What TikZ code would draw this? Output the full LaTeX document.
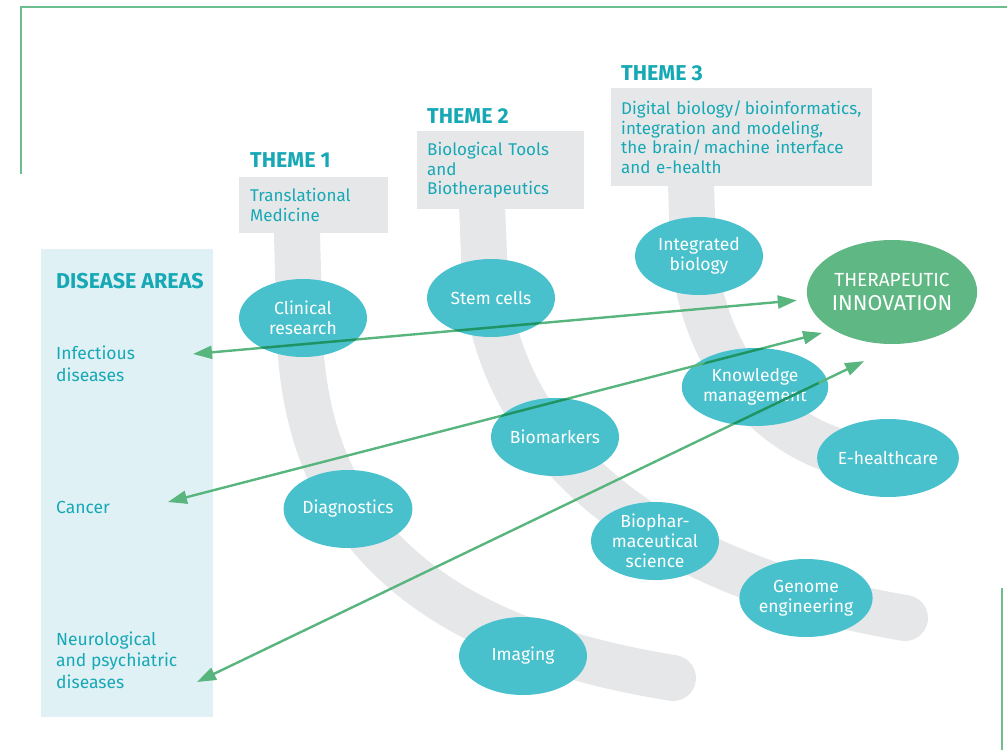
\documentclass[tikz,border=0pt]{standalone}
\usepackage{fontspec}
\setmainfont{Fira Sans}
\usetikzlibrary{shapes.geometric,calc,arrows.meta}

\definecolor{topicTeal}{HTML}{48C1CD}
\definecolor{labelTeal}{HTML}{16A8B5}
\definecolor{innovGreen}{HTML}{5FB784}
\definecolor{linkGreen}{HTML}{58B57E}
\definecolor{linkDark}{HTML}{1C9468}
\definecolor{bandGray}{HTML}{E6E7E9}
\definecolor{areaBlue}{HTML}{E0F1F5}
\definecolor{frameGreen}{HTML}{6CBE8E}

\begin{document}
\begin{tikzpicture}[x=1pt,y=-1pt,
  topic/.style={ellipse,fill=topicTeal,text=white,minimum width=128pt,minimum height=78pt,inner sep=0pt,outer sep=0pt,align=center,font=\fontsize{17.5}{20}\selectfont},
  themebox/.style={fill=bandGray,text=labelTeal,anchor=north west,align=left,inner xsep=10pt,inner ysep=0pt,font=\fontsize{17}{19.5}\selectfont},
  themelabel/.style={text=labelTeal,anchor=base west,inner sep=0pt,font=\bfseries\fontsize{21.5}{24}\selectfont},
  areatext/.style={text=labelTeal,anchor=base west,inner sep=0pt,align=left,font=\fontsize{17.5}{21.5}\selectfont},
  band/.style={draw=bandGray,line width=46pt,line cap=round},
  frame/.style={draw=frameGreen,line width=1.5pt},
  link/.style={draw=linkGreen,line width=2.4pt,>={Triangle[length=19pt,width=13pt]},<->},
  linkover/.style={draw=linkDark,line width=2.4pt}]
\useasboundingbox (0,0) rectangle (1007,750);

% frame
\draw[frame] (21,174) -- (21,7) -- (1007,7);
\draw[frame] (1002,588) -- (1002,750);

% disease areas
\fill[areaBlue] (41,249) rectangle (213,717);
\node[areatext,font=\bfseries\fontsize{21.5}{24}\selectfont] (DiseaseAreas) at (56,288) {DISEASE AREAS};
\node[areatext] (Infectious) at (56,381) {Infectious\\diseases};
\node[areatext] (Cancer) at (56,513) {Cancer};
\node[areatext] (Neuro) at (56,688) {Neurological\\and psychiatric\\diseases};

% bands
\draw[band] (296,200) -- (300,340) .. controls (310,560) and (470,645) .. (673,678);
\draw[band] (481,180) -- (485,280) .. controls (505,470) and (680,580) .. (905,618);
\draw[band] (690,150) -- (693,250) .. controls (705,380) and (790,450) .. (870,458);

% themes
\node[themebox,minimum width=149pt,minimum height=56pt,text width=127pt] (ThemeOneBox) at (239,177) {Translational\\Medicine};
\node[themelabel] (ThemeOne) at ([xshift=11pt,yshift=10pt]ThemeOneBox.north west) {THEME 1};
\node[themebox,minimum width=167pt,minimum height=78pt,text width=147pt] (ThemeTwoBox) at (417,131) {Biological Tools\\and\\Biotherapeutics};
\node[themelabel] (ThemeTwo) at ([xshift=10pt,yshift=8pt]ThemeTwoBox.north west) {THEME 2};
\node[themebox,minimum width=261pt,minimum height=98pt,text width=241pt] (ThemeThreeBox) at (611,88) {\mbox{Digital biology/\,bioinformatics,}\\integration and modeling,\\\mbox{the brain/\,machine interface}\\and e-health};
\node[themelabel] (ThemeThree) at ([xshift=10pt,yshift=8pt]ThemeThreeBox.north west) {THEME 3};

% topics
\node[topic] (ClinicalResearch) at (303,318) {Clinical\\research};
\node[topic] (Diagnostics) at (348,509) {Diagnostics};
\node[topic] (Imaging) at (523,656) {Imaging};
\node[topic] (StemCells) at (491,298) {Stem cells};
\node[topic] (Biomarkers) at (555,437) {Biomarkers};
\node[topic] (Biopharma) at (655,541) {Biophar-\\maceutical\\science};
\node[topic] (GenomeEng) at (806,598) {Genome\\engineering};
\node[topic] (IntegratedBio) at (699,256) {Integrated\\biology};
\node[topic] (Knowledge) at (755,387) {Knowledge\\management};
\node[topic] (EHealth) at (888,458) {E-healthcare};

\node[ellipse,fill=innovGreen,text=white,minimum width=166pt,minimum height=104pt,inner sep=0pt,outer sep=0pt,align=center,font=\fontsize{21.5}{23.5}\selectfont] (TherapeuticInnovation) at (892,292) {{\fontsize{19}{22}\selectfont THERAPEUTIC}\\INNOVATION};

% links
\coordinate (InfectiousTip) at (193,354);
\coordinate (CancerTip) at (168,502);
\coordinate (NeuroTip) at (197,682);
\draw[link,shorten >=11pt] (InfectiousTip) -- (TherapeuticInnovation.185.6);
\draw[link,shorten >=12pt] (CancerTip) -- (TherapeuticInnovation.213.9);
\draw[link,shorten >=40pt] (NeuroTip) -- (TherapeuticInnovation.279.9);

% darker where the links cross the topics
\begin{scope}
\clip (ClinicalResearch.center) ellipse [x radius=64, y radius=39]
      (StemCells.center) ellipse [x radius=64, y radius=39]
      (Biomarkers.center) ellipse [x radius=64, y radius=39]
      (Knowledge.center) ellipse [x radius=64, y radius=39];
\draw[linkover] (InfectiousTip) -- (TherapeuticInnovation.185.6);
\draw[linkover] (CancerTip) -- (TherapeuticInnovation.213.9);
\draw[linkover] (NeuroTip) -- (TherapeuticInnovation.279.9);
\end{scope}
\end{tikzpicture}
\end{document}
